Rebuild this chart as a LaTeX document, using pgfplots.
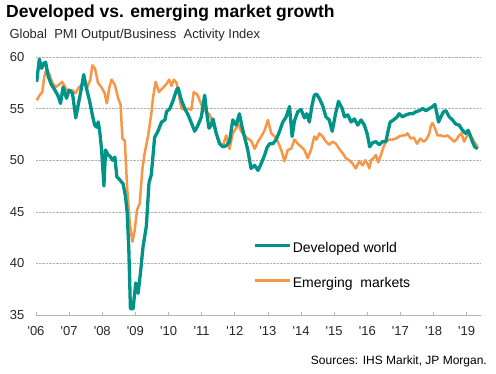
\documentclass[border=0pt]{standalone}
\usepackage{fontspec}
\setmainfont{Liberation Sans}
\usepackage{pgfplots}
\pgfplotsset{compat=1.18}
\definecolor{devteal}{RGB}{0,148,136}
\definecolor{emorange}{RGB}{247,150,70}
\begin{document}
\begin{tikzpicture}
\useasboundingbox (-36pt,-58pt) rectangle (460pt,315pt);
\begin{axis}[
  scale only axis, width=444pt, height=258pt,
  xmin=2006, xmax=2019.4, ymin=35, ymax=60,
  axis lines*=left,
  x axis line style={gray!60, line width=0.8pt},
  y axis line style={draw=none},
  ytick={35,40,45,50,55,60},
  ymajorgrids,
  grid style={densely dotted, gray!60, line width=0.6pt},
  xtick={2006,...,2019},
  xticklabels={\textquotesingle06,\textquotesingle07,\textquotesingle08,\textquotesingle09,\textquotesingle10,\textquotesingle11,\textquotesingle12,\textquotesingle13,\textquotesingle14,\textquotesingle15,\textquotesingle16,\textquotesingle17,\textquotesingle18,\textquotesingle19},
  tick align=inside,
  major tick length=3.5pt,
  xtick style={gray!60, line width=0.8pt},
  ytick style={draw=none},
  /pgf/number format/assume math mode=true,
  tick label style={font=\fontsize{13}{15}\selectfont, text=black!85},
  yticklabel style={anchor=east, inner sep=0pt, xshift=-11.5pt},
  xticklabel style={anchor=base, inner sep=0pt, yshift=-20.7pt},
  legend style={draw=none, fill=none, at={(0.488,0.284)}, anchor=north west,
    font=\fontsize{14}{16}\selectfont, row sep=20pt, inner sep=0pt,
    nodes={inner sep=1pt, text height=10pt, text depth=3pt}},
  legend cell align=left,
  legend image code/.code={\draw[#1] (0pt,4pt) -- (35.6pt,4pt);},
  reverse legend,
]
\addplot[emorange, line width=2.5pt, line join=round] coordinates {
(2006.02,55.8)(2006.11,56.3)(2006.19,56.6)(2006.25,58.1)(2006.32,58.9)(2006.41,58.3)(2006.49,57.5)(2006.59,57.1)(2006.69,57.3)(2006.79,57.6)(2006.89,57.0)(2006.99,56.6)(2007.09,56.8)(2007.19,56.5)(2007.30,57.1)(2007.40,57.3)(2007.47,57.8)(2007.54,57.0)(2007.64,57.8)(2007.70,59.2)(2007.78,58.9)(2007.87,57.5)(2007.97,57.1)(2008.07,56.5)(2008.14,55.5)(2008.21,57.0)(2008.28,57.8)(2008.38,57.3)(2008.48,56.0)(2008.55,55.4)(2008.61,52.1)(2008.68,51.9)(2008.75,47.4)(2008.83,43.9)(2008.91,42.1)(2008.98,43.2)(2009.05,45.2)(2009.13,45.8)(2009.21,49.1)(2009.28,50.7)(2009.38,52.3)(2009.48,54.5)(2009.53,56.0)(2009.61,57.6)(2009.71,56.6)(2009.83,57.0)(2009.94,57.4)(2010.02,57.8)(2010.09,57.2)(2010.16,57.8)(2010.24,57.5)(2010.32,56.2)(2010.39,55.0)(2010.49,54.9)(2010.59,55.0)(2010.69,54.9)(2010.76,56.6)(2010.86,56.4)(2010.94,55.8)(2011.04,55.0)(2011.14,54.7)(2011.24,54.4)(2011.34,53.6)(2011.44,52.6)(2011.54,51.6)(2011.64,51.4)(2011.74,52.4)(2011.84,51.1)(2011.94,52.6)(2012.04,53.1)(2012.09,53.6)(2012.19,52.8)(2012.29,52.4)(2012.39,52.1)(2012.49,51.9)(2012.60,51.1)(2012.70,51.8)(2012.80,52.3)(2012.90,52.9)(2013.00,53.9)(2013.10,52.6)(2013.20,52.3)(2013.30,51.8)(2013.40,51.0)(2013.50,49.9)(2013.60,51.0)(2013.70,51.1)(2013.80,52.0)(2013.90,51.6)(2014.00,51.3)(2014.10,51.0)(2014.20,50.2)(2014.30,51.0)(2014.40,52.3)(2014.47,52.0)(2014.55,52.6)(2014.65,52.3)(2014.75,51.8)(2014.85,51.5)(2014.95,51.8)(2015.05,51.6)(2015.15,51.1)(2015.25,50.7)(2015.35,50.2)(2015.45,50.0)(2015.55,49.7)(2015.65,49.2)(2015.76,49.9)(2015.86,49.5)(2015.94,50.0)(2016.01,49.6)(2016.06,49.2)(2016.11,50.0)(2016.19,50.2)(2016.26,50.5)(2016.33,49.8)(2016.41,50.5)(2016.49,51.3)(2016.56,51.8)(2016.66,52.0)(2016.76,52.0)(2016.86,52.1)(2016.96,52.3)(2017.06,52.4)(2017.14,52.4)(2017.21,52.6)(2017.31,52.1)(2017.40,52.2)(2017.50,51.6)(2017.60,52.1)(2017.70,51.8)(2017.78,52.0)(2017.87,52.6)(2017.92,53.4)(2017.97,53.6)(2018.04,53.1)(2018.12,52.4)(2018.22,52.4)(2018.32,52.3)(2018.42,52.4)(2018.52,52.1)(2018.62,51.8)(2018.69,52.0)(2018.77,52.4)(2018.84,52.6)(2018.92,51.8)(2019.00,52.3)(2019.07,52.8)(2019.14,52.3)(2019.22,51.8)(2019.33,51.3)
};
\addlegendentry{Emerging\ \ markets}
\addplot[devteal, line width=3.3pt, line join=round] coordinates {
(2006.02,57.6)(2006.10,59.8)(2006.17,58.9)(2006.24,59.4)(2006.29,59.5)(2006.37,58.1)(2006.47,57.3)(2006.57,56.8)(2006.67,56.2)(2006.74,55.5)(2006.82,57.1)(2006.92,56.0)(2007.00,56.8)(2007.10,56.5)(2007.20,54.1)(2007.30,55.8)(2007.36,56.8)(2007.44,58.3)(2007.52,57.0)(2007.62,55.7)(2007.70,54.4)(2007.77,53.4)(2007.83,53.2)(2007.88,53.7)(2007.93,52.6)(2007.98,51.0)(2008.05,47.5)(2008.10,51.0)(2008.17,50.5)(2008.23,50.4)(2008.31,50.0)(2008.38,50.3)(2008.44,48.4)(2008.53,48.1)(2008.63,47.7)(2008.70,46.5)(2008.75,45.0)(2008.80,41.5)(2008.85,35.6)(2008.93,35.6)(2009.01,38.1)(2009.08,37.1)(2009.15,39.0)(2009.23,41.6)(2009.33,43.6)(2009.41,47.8)(2009.48,48.6)(2009.58,52.2)(2009.68,52.8)(2009.79,53.7)(2009.89,53.9)(2009.94,54.7)(2010.04,55.0)(2010.14,55.8)(2010.24,56.8)(2010.29,57.0)(2010.39,55.8)(2010.49,55.0)(2010.59,54.4)(2010.69,53.6)(2010.79,52.8)(2010.89,53.4)(2010.99,54.2)(2011.09,56.3)(2011.14,54.9)(2011.22,53.1)(2011.29,53.4)(2011.34,54.0)(2011.44,52.6)(2011.54,51.6)(2011.64,51.3)(2011.74,51.4)(2011.84,51.8)(2011.94,53.9)(2012.04,53.4)(2012.14,54.5)(2012.22,53.2)(2012.29,52.3)(2012.39,51.0)(2012.49,49.2)(2012.60,49.5)(2012.70,49.0)(2012.80,49.7)(2012.90,50.5)(2012.97,51.2)(2013.05,51.6)(2013.15,51.6)(2013.25,52.0)(2013.35,52.8)(2013.45,53.7)(2013.55,54.2)(2013.65,55.2)(2013.73,52.3)(2013.80,53.8)(2013.90,54.7)(2014.00,54.9)(2014.10,54.1)(2014.17,54.5)(2014.25,53.7)(2014.33,55.3)(2014.40,56.3)(2014.47,56.4)(2014.55,56.0)(2014.65,55.3)(2014.75,54.2)(2014.85,53.9)(2014.94,52.8)(2015.04,54.5)(2015.13,55.7)(2015.24,55.0)(2015.31,54.2)(2015.41,54.4)(2015.51,53.7)(2015.61,54.0)(2015.71,53.4)(2015.81,53.9)(2015.91,53.4)(2016.00,52.5)(2016.07,51.3)(2016.16,51.7)(2016.26,51.8)(2016.36,51.5)(2016.46,51.8)(2016.56,51.8)(2016.63,52.9)(2016.69,53.7)(2016.79,53.9)(2016.90,54.2)(2016.96,54.5)(2017.06,54.2)(2017.17,54.4)(2017.27,54.5)(2017.37,54.5)(2017.47,54.7)(2017.57,54.8)(2017.67,55.0)(2017.77,54.8)(2017.87,55.0)(2017.97,55.2)(2018.04,55.4)(2018.10,54.5)(2018.15,53.7)(2018.22,54.2)(2018.30,54.7)(2018.37,54.8)(2018.47,54.2)(2018.57,53.9)(2018.67,53.5)(2018.77,53.4)(2018.87,52.9)(2018.97,52.6)(2019.04,52.9)(2019.10,52.4)(2019.17,51.8)(2019.24,51.3)(2019.33,51.1)
};
\addlegendentry{Developed world}
\end{axis}
\node[anchor=base west, inner sep=0pt] at (-30pt,297.5pt) {\fontsize{17.5}{20}\selectfont\bfseries Developed vs. emerging market growth};
\node[anchor=base west, inner sep=0pt, text=black!85] at (-26.7pt,276.7pt) {\fontsize{13}{15}\selectfont Global\ \ PMI Output/Business\ \ Activity Index};
\node[anchor=base east, inner sep=0pt] at (451pt,-49pt) {\fontsize{12}{14}\selectfont Sources: IHS Markit, JP Morgan.};
\end{tikzpicture}
\end{document}
